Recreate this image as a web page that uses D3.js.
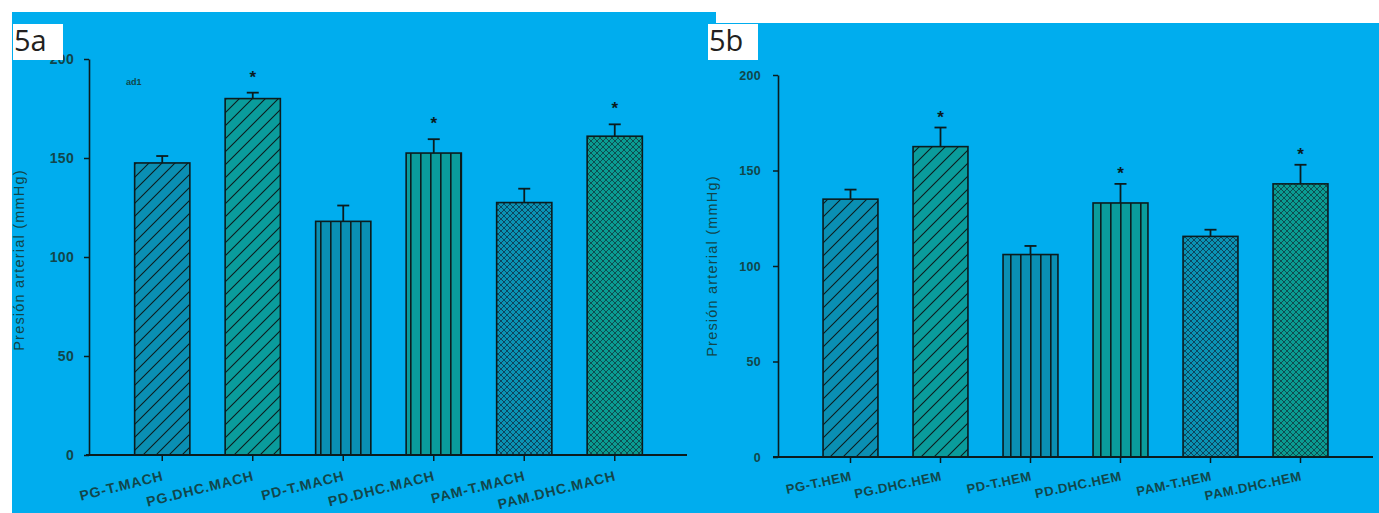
<!DOCTYPE html>
<html>
<head>
<meta charset="utf-8">
<script src="https://cdn.jsdelivr.net/npm/d3@7"></script>
<style>
  body { margin: 0; background: #ffffff; }
  svg { display: block; }
</style>
</head>
<body>
<svg width="1379" height="513"></svg>
<script>
// data (mean and error bar length, mmHg)
var categoriesA = ["PG-T.MACH", "PG.DHC.MACH", "PD-T.MACH", "PD.DHC.MACH", "PAM-T.MACH", "PAM.DHC.MACH"];
var meansA = [147.5, 180, 118, 152.5, 127.5, 161];
var errorsA = [3.5, 3, 8, 7, 7, 6];
var starsA = [false, true, false, true, false, true];

var categoriesB = ["PG-T.HEM", "PG.DHC.HEM", "PD-T.HEM", "PD.DHC.HEM", "PAM-T.HEM", "PAM.DHC.HEM"];
var meansB = [135, 162.5, 106, 133, 115.5, 143];
var errorsB = [5, 10, 4.5, 10, 3.5, 10];
var starsB = [false, true, false, true, false, true];

var yTicks = [0, 50, 100, 150, 200];
var patternIds = ["hatchBlue", "hatchTeal", "stripeBlue", "stripeTeal", "crossBlue", "crossTeal"];

var svg = d3.select("svg");
var bg = "#00adee";
var ink = "#0b1c1e";
var textCol = "#12464a";
var font = "Liberation Sans, Arial, sans-serif";

// panel backgrounds
svg.append("rect").attr("x", 12).attr("y", 12).attr("width", 704).attr("height", 501).attr("fill", bg);
svg.append("rect").attr("x", 716).attr("y", 23).attr("width", 663).attr("height", 490).attr("fill", bg);

// fill patterns
var defs = svg.append("defs");

function hatch(id, color) {
    var p = defs.append("pattern").attr("id", id)
        .attr("patternUnits", "userSpaceOnUse").attr("width", 13).attr("height", 13);
    p.append("rect").attr("width", 13).attr("height", 13).attr("fill", color);
    p.append("path").attr("d", "M-3,3 L3,-3 M0,13 L13,0 M10,16 L16,10")
        .attr("stroke", ink).attr("stroke-width", 1.1);
}
function stripe(id, color) {
    var p = defs.append("pattern").attr("id", id)
        .attr("patternUnits", "userSpaceOnUse").attr("width", 10).attr("height", 10);
    p.append("rect").attr("width", 10).attr("height", 10).attr("fill", color);
    p.append("rect").attr("x", 0).attr("width", 1.6).attr("height", 10).attr("fill", ink);
}
function cross(id, color, lineColor) {
    var p = defs.append("pattern").attr("id", id)
        .attr("patternUnits", "userSpaceOnUse").attr("width", 6).attr("height", 6);
    p.append("rect").attr("width", 6).attr("height", 6).attr("fill", color);
    p.append("path").attr("d", "M0,6 L6,0 M-1,1 L1,-1 M5,7 L7,5 M0,0 L6,6")
        .attr("stroke", lineColor).attr("stroke-width", 0.9);
}
hatch("hatchBlue", "#0a8fb3");
hatch("hatchTeal", "#0a9c9c");
stripe("stripeBlue", "#0a8fb3");
stripe("stripeTeal", "#0a9c9c");
cross("crossBlue", "#0a93b4", "#0c3d55");
cross("crossTeal", "#0a9c92", "#0d4548");

function drawPanel(opt) {
    var g = svg.append("g");

    var rows = opt.categories.map(function(c, i) {
        return { cat: c, mean: opt.means[i], err: opt.errors[i], star: opt.stars[i], pat: patternIds[i] };
    });

    var y = d3.scaleLinear().domain([0, 200]).range([opt.y0, opt.y200]);
    var x = d3.scaleBand().domain(opt.categories).range(opt.band)
        .paddingInner(0.39).paddingOuter(0.195);
    var cx = function(d) { return x(d.cat) + x.bandwidth() / 2; };

    // y axis
    var yAxis = g.append("g")
        .attr("transform", "translate(" + opt.axisX + ",0)")
        .call(d3.axisLeft(y).tickValues(yTicks).tickSize(5).tickPadding(opt.tickPad).tickSizeOuter(0));
    yAxis.select(".domain").attr("stroke", ink).attr("stroke-width", 1.6);
    yAxis.selectAll(".tick line").attr("stroke", ink).attr("stroke-width", 1.5);
    yAxis.selectAll(".tick text")
        .attr("fill", textCol)
        .attr("font-family", font)
        .attr("font-size", opt.tickFont)
        .attr("font-weight", "bold")
        .attr("letter-spacing", 0.3);

    // bars
    g.selectAll(".bar")
        .data(rows)
        .enter()
        .append("rect")
        .attr("class", "bar")
        .attr("x", function(d) { return x(d.cat); })
        .attr("y", function(d) { return y(d.mean); })
        .attr("width", x.bandwidth())
        .attr("height", function(d) { return y(0) - y(d.mean); })
        .attr("fill", function(d) { return "url(#" + d.pat + ")"; })
        .attr("stroke", ink)
        .attr("stroke-width", 1.6);

    // error bars
    g.selectAll(".err")
        .data(rows)
        .enter()
        .append("line")
        .attr("x1", cx)
        .attr("x2", cx)
        .attr("y1", function(d) { return y(d.mean); })
        .attr("y2", function(d) { return y(d.mean + d.err); })
        .attr("stroke", ink).attr("stroke-width", 1.8);
    g.selectAll(".cap")
        .data(rows)
        .enter()
        .append("line")
        .attr("x1", function(d) { return cx(d) - 6; })
        .attr("x2", function(d) { return cx(d) + 6; })
        .attr("y1", function(d) { return y(d.mean + d.err); })
        .attr("y2", function(d) { return y(d.mean + d.err); })
        .attr("stroke", ink).attr("stroke-width", 1.8);

    // significance marks
    g.selectAll(".star")
        .data(rows.filter(function(d) { return d.star; }))
        .enter()
        .append("text")
        .attr("x", cx)
        .attr("y", function(d) { return y(d.mean + d.err) - opt.starGap; })
        .attr("text-anchor", "middle")
        .attr("font-family", font)
        .attr("font-size", 17)
        .attr("font-weight", "bold")
        .attr("fill", ink)
        .text("*");

    // x axis line and ticks
    g.append("line")
        .attr("x1", opt.xAxisExtent[0]).attr("x2", opt.xAxisExtent[1])
        .attr("y1", y(0)).attr("y2", y(0))
        .attr("stroke", ink).attr("stroke-width", 1.8);
    g.selectAll(".xtick")
        .data(rows)
        .enter()
        .append("line")
        .attr("x1", cx)
        .attr("x2", cx)
        .attr("y1", y(0))
        .attr("y2", y(0) + 6)
        .attr("stroke", ink).attr("stroke-width", 1.5);

    g.selectAll(".xlabel")
        .data(rows)
        .enter()
        .append("text")
        .attr("transform", function(d) {
            return "translate(" + (cx(d) + 2) + "," + (y(0) + opt.labelDy) + ") rotate(" + opt.labelAngle + ")";
        })
        .attr("text-anchor", "end")
        .attr("font-family", font)
        .attr("font-size", opt.labelFont)
        .attr("font-weight", "bold")
        .attr("letter-spacing", opt.labelSpacing)
        .attr("fill", textCol)
        .text(function(d) { return d.cat; });

    // y axis title
    g.append("text")
        .attr("transform", "translate(" + opt.titleX + "," + opt.titleY + ") rotate(-90)")
        .attr("text-anchor", "middle")
        .attr("font-family", font)
        .attr("font-size", 14.5)
        .attr("letter-spacing", 1.2)
        .attr("fill", textCol)
        .text("Presión arterial (mmHg)");

    return g;
}

var panelA = drawPanel({
    categories: categoriesA, means: meansA, errors: errorsA, stars: starsA,
    y0: 455, y200: 59, band: [117, 660], axisX: 89, tickPad: 10, tickFont: 14,
    xAxisExtent: [86, 687], starGap: 10, labelAngle: -14, labelFont: 14, labelSpacing: 0.9, labelDy: 25,
    titleX: 24, titleY: 260
});
panelA.append("text")
    .attr("x", 126).attr("y", 85)
    .attr("font-family", font)
    .attr("font-size", 9).attr("font-weight", "bold").attr("fill", textCol)
    .text("ad1");

drawPanel({
    categories: categoriesB, means: meansB, errors: errorsB, stars: starsB,
    y0: 457, y200: 75, band: [805.5, 1345.5], axisX: 778, tickPad: 12, tickFont: 12.5,
    xAxisExtent: [773, 1373], starGap: 5, labelAngle: -12, labelFont: 13, labelSpacing: 0.6, labelDy: 23,
    titleX: 717, titleY: 266
});

// panel labels
function panelLabel(x0, label) {
    svg.append("rect").attr("x", x0).attr("y", 24).attr("width", 50).attr("height", 36).attr("fill", "#ffffff");
    svg.append("text")
        .attr("x", x0 + 1).attr("y", 51)
        .attr("font-family", "Open Sans, Noto Sans, sans-serif")
        .attr("font-size", 29)
        .attr("fill", "#231f20")
        .text(label);
}
panelLabel(13, "5a");
panelLabel(708, "5b");
</script>
</body>
</html>
